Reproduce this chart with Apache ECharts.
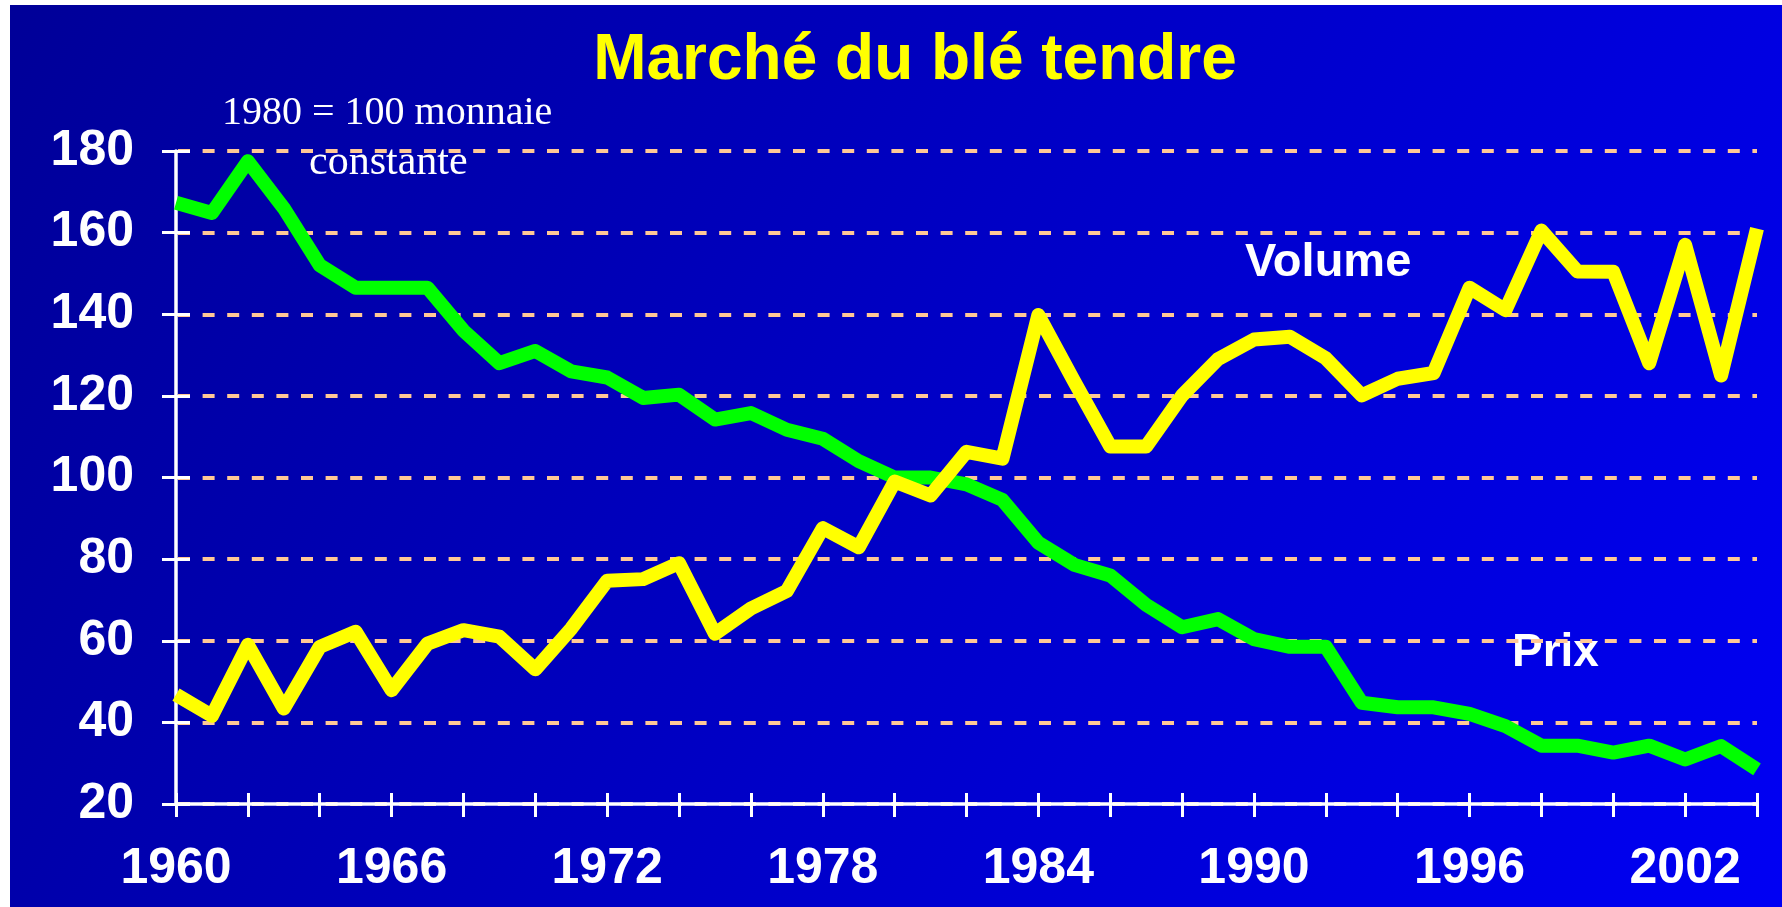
<!DOCTYPE html>
<html>
<head>
<meta charset="utf-8">
<title>Marché du blé tendre</title>
<script src="https://cdn.jsdelivr.net/npm/echarts@6/dist/echarts.min.js"></script>
<style>
    html, body { margin: 0; padding: 0; background: #ffffff; }
    #chart { position: absolute; left: 10px; top: 5px; width: 1772px; height: 902px; }
</style>
</head>
<body>
<div id="chart"></div>
<script>
// data (indice 1980 = 100)
const years = [
    1960, 1961, 1962, 1963, 1964, 1965, 1966, 1967, 1968, 1969,
    1970, 1971, 1972, 1973, 1974, 1975, 1976, 1977, 1978, 1979,
    1980, 1981, 1982, 1983, 1984, 1985, 1986, 1987, 1988, 1989,
    1990, 1991, 1992, 1993, 1994, 1995, 1996, 1997, 1998, 1999,
    2000, 2001, 2002, 2003, 2004
];
const prix = [
    167.3, 164.8, 177.5, 166, 152, 146.5, 146.5, 146.5, 136, 128,
    131, 126, 124.5, 119.5, 120.3, 114.2, 115.8, 111.7, 109.5, 104,
    100, 100, 98.3, 94.5, 84, 78.6, 76, 68.8, 63.3, 65.3,
    60.4, 58.5, 58.5, 44.8, 43.7, 43.7, 42.1, 39.1, 34.3, 34.3,
    32.6, 34.3, 30.9, 34.2, 28.5
];
const volume = [
    46.8, 41.6, 59, 43.4, 58.5, 62.2, 47.9, 59.3, 62.6, 61,
    53, 63, 74.7, 75.1, 79, 61.7, 67.9, 72.2, 87.6, 82.9,
    99, 95.6, 106.3, 104.6, 139.8, 123.5, 107.6, 107.6, 120.1, 129,
    133.8, 134.5, 129.2, 120.1, 124.2, 125.6, 146.5, 141, 160.5, 150.5,
    150.4, 128, 157, 125, 161
];
const xLabelYears = [1960, 1966, 1972, 1978, 1984, 1990, 1996, 2002];
const yMin = 20, yMax = 180, yStep = 20;

const chart = echarts.init(document.getElementById('chart'));

const labelFont = { color: '#ffffff', fontFamily: 'Liberation Sans, Arial, sans-serif', fontWeight: 'bold', fontSize: 50 };

const option = {
    animation: false,
    backgroundColor: new echarts.graphic.LinearGradient(0, 0, 1, 1, [
        { offset: 0, color: '#000098' },
        { offset: 1, color: '#0000f4' }
    ]),
    grid: { left: 166, right: 25, top: 146, bottom: 103 },
    xAxis: [
        {
            type: 'value', min: 1960, max: 2004, interval: 2,
            axisLine: { lineStyle: { color: '#ffffff', width: 3.5 } },
            axisTick: { length: 13, lineStyle: { color: '#ffffff', width: 3 } },
            axisLabel: Object.assign({
                margin: 40,
                formatter: v => xLabelYears.includes(v) ? String(v) : ''
            }, labelFont),
            splitLine: { show: false }
        },
        {
            // ticks crossing above the axis line
            type: 'value', min: 1960, max: 2004, interval: 2, position: 'bottom',
            axisLine: { show: false },
            axisTick: { inside: true, length: 11, lineStyle: { color: '#ffffff', width: 3 } },
            axisLabel: { show: false },
            splitLine: { show: false }
        }
    ],
    yAxis: [
        {
            type: 'value', min: yMin, max: yMax, interval: yStep,
            axisLine: { show: true, lineStyle: { color: '#ffffff', width: 3.5 } },
            axisTick: { show: true, length: 14, lineStyle: { color: '#ffffff', width: 3 } },
            axisLabel: Object.assign({ margin: 42 }, labelFont),
            splitLine: {
                lineStyle: { color: '#ffc896', width: 4, type: [12, 12.6], dashOffset: -2 }
            }
        },
        {
            type: 'value', min: yMin, max: yMax, interval: yStep, position: 'left',
            axisLine: { show: false },
            axisTick: { show: true, inside: true, length: 14, lineStyle: { color: '#ffffff', width: 3 } },
            axisLabel: { show: false },
            splitLine: { show: false }
        }
    ],
    series: [
        {
            name: 'Prix',
            type: 'line',
            data: years.map((y, i) => [y, prix[i]]),
            showSymbol: false,
            lineStyle: { color: '#00ff00', width: 14, join: 'round' },
            z: 3
        },
        {
            name: 'Volume',
            type: 'line',
            data: years.map((y, i) => [y, volume[i]]),
            showSymbol: false,
            lineStyle: { color: '#ffff00', width: 14, join: 'round' },
            z: 4
        }
    ],
    graphic: [
        {
            type: 'text', x: 905, y: 56,
            style: {
                text: 'Marché du blé tendre', fill: '#ffff00',
                font: 'bold 64px "Liberation Sans", Arial, sans-serif',
                align: 'center', verticalAlign: 'middle'
            }
        },
        {
            type: 'text', x: 212, y: 108,
            style: {
                text: '1980 = 100 monnaie', fill: '#ffffff',
                font: '40px "Liberation Serif", "Times New Roman", serif',
                align: 'left', verticalAlign: 'middle'
            }
        },
        {
            type: 'text', x: 299, y: 158,
            style: {
                text: 'constante', fill: '#ffffff',
                font: '42px "Liberation Serif", "Times New Roman", serif',
                align: 'left', verticalAlign: 'middle'
            }
        },
        {
            type: 'text', x: 1235, y: 258,
            style: {
                text: 'Volume', fill: '#ffffff',
                font: 'bold 47px "Liberation Sans", Arial, sans-serif',
                align: 'left', verticalAlign: 'middle'
            }
        },
        {
            type: 'text', x: 1502, y: 648,
            style: {
                text: 'Prix', fill: '#ffffff',
                font: 'bold 46px "Liberation Sans", Arial, sans-serif',
                align: 'left', verticalAlign: 'middle'
            }
        }
    ]
};

chart.setOption(option);
window.addEventListener('resize', () => chart.resize());
</script>
</body>
</html>
